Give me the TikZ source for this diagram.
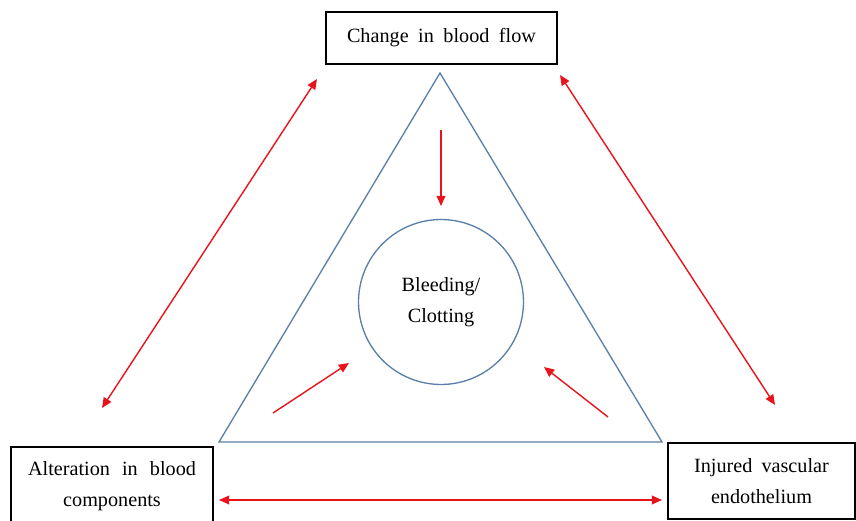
\documentclass[tikz,border=0pt]{standalone}
\usepackage{fontspec}
\setmainfont{Liberation Serif}
\usetikzlibrary{arrows.meta}
\definecolor{triblue}{HTML}{5A7FA8}
\definecolor{arrred}{HTML}{E8141B}
\tikzset{
  box/.style={draw=black, line width=0.8pt, align=center, inner sep=0pt,
    font=\fontsize{11.5}{18}\selectfont},
  redarrow/.style={draw=arrred, line width=0.8pt,
    arrows={-Triangle[length=5.8pt,width=5pt]}},
  redboth/.style={draw=arrred, line width=0.8pt,
    arrows={Triangle[length=5.8pt,width=5pt]-Triangle[length=5.8pt,width=5pt]}},
  tri/.style={draw=triblue, line width=0.75pt, line join=miter},
  core/.style={circle, draw=triblue, line width=0.75pt, minimum size=3.3cm,
    align=center, inner sep=0pt, font=\fontsize{11.5}{18}\selectfont}
}
\begin{document}
\begin{tikzpicture}[x=0.02cm,y=-0.02cm]
\useasboundingbox (0,0) rectangle (856,521);
\fill[white] (0,0) rectangle (856,521);
% boxes
\node[box, minimum width=4.62cm, minimum height=1.04cm] (flow) at (441.5,38) {\spaceskip=0.47em Change in blood flow};
\node[box, minimum width=4.04cm, minimum height=1.56cm] (comp) at (112,486) {\spaceskip=0.6em Alteration in blood\\components};
\node[box, minimum width=3.74cm, minimum height=1.52cm] (endo) at (761.5,481) {\spaceskip=0.45em Injured vascular\\endothelium};
% triangle
\coordinate (tA) at (440,73);
\coordinate (tL) at (219,442);
\coordinate (tR) at (662,442);
\draw[tri] (tA) -- (tL) -- (tR) -- cycle;
% circle
\node[core] (bc) at (441,302) {Bleeding/\\Clotting};
% outer arrows
\coordinate (a1s) at (102,408);
\coordinate (a1e) at (317,79);
\coordinate (a2s) at (560,75);
\coordinate (a2e) at (775,405);
\coordinate (a3s) at (219,500);
\coordinate (a3e) at (662,500);
\draw[redboth] (a1s) -- (a1e);
\draw[redboth] (a2s) -- (a2e);
\draw[redboth] (a3s) -- (a3e);
% inner arrows
\coordinate (i1s) at (441,130);
\coordinate (i1e) at (441,206);
\coordinate (i2s) at (273,413);
\coordinate (i2e) at (349,363);
\coordinate (i3s) at (608,417);
\coordinate (i3e) at (544,367);
\draw[redarrow] (i1s) -- (i1e);
\draw[redarrow] (i2s) -- (i2e);
\draw[redarrow] (i3s) -- (i3e);
\end{tikzpicture}
\end{document}
